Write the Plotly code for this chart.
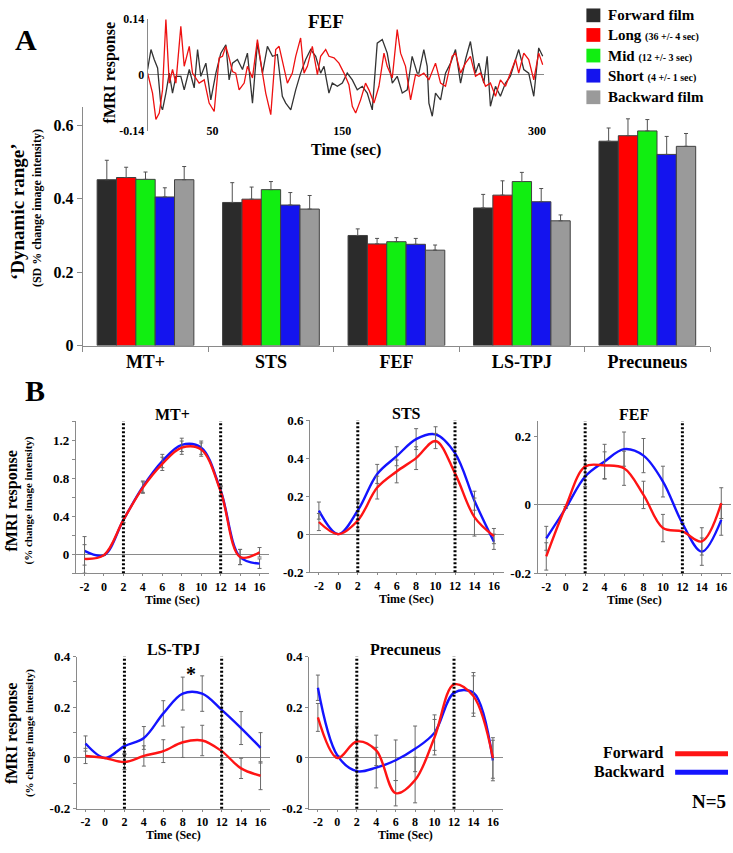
import plotly.graph_objects as go

W, H = 733, 853
SERIF = "Liberation Serif, Times New Roman, serif"


def fx(px):
    return px / W


def fy(py):
    return 1 - py / H


# ---------------- Panel A: 'dynamic range' bars ----------------
regions = ["MT+", "STS", "FEF", "LS-TPJ", "Precuneus"]
forward_film = [0.452, 0.390, 0.300, 0.375, 0.557]
long_seg = [0.458, 0.399, 0.277, 0.410, 0.572]
mid_seg = [0.453, 0.425, 0.283, 0.447, 0.585]
short_seg = [0.405, 0.383, 0.276, 0.392, 0.521]
backward_film = [0.452, 0.372, 0.260, 0.340, 0.543]

forward_film_err = [0.053, 0.054, 0.018, 0.037, 0.036]
long_err = [0.028, 0.033, 0.015, 0.039, 0.046]
mid_err = [0.020, 0.022, 0.011, 0.025, 0.031]
short_err = [0.025, 0.034, 0.016, 0.036, 0.049]
backward_err = [0.036, 0.037, 0.014, 0.016, 0.035]

bar_ticks = [0, 0.2, 0.4, 0.6]

# ---------------- Panel A inset: FEF time course ----------------
fef_fwd_t = [0, 2.6, 5.1, 7.7, 10.3, 11.5, 14.1, 16.7, 19.2, 21.8, 25.6, 28.2, 32.1, 35.9, 38.5,
             41.0, 44.9, 48.7, 52.6, 56.4, 60.3, 62.8, 65.4, 69.2, 73.1, 76.9, 80.8, 84.6, 88.5, 92.3,
             96.2, 100.0, 103.8, 106.4, 110.3, 114.1, 117.9, 121.8, 125.6, 129.5, 133.3, 135.9, 139.7,
             142.3, 146.2, 150.0, 153.8, 157.7, 161.5, 165.4, 169.2, 173.1, 176.9, 180.8, 184.6, 188.5,
             192.3, 196.2, 200.0, 203.8, 207.7, 209, 212.8, 215.4, 216.7, 219.3, 221.8, 225.7, 229.5,
             233.4, 237.2, 241.1, 244.9, 248.7, 252.6, 255.2, 259.0, 261.6, 264.1, 268.0, 271.8, 275.7,
             279.5, 282.1, 285.9, 289.8, 293.6, 297.5, 301.3, 304.4]
fef_fwd = [0.013, 0.063, 0.038, 0.017, -0.079, -0.088, -0.046, 0.004, -0.046, -0.004, -0.004, -0.038,
           0.013, -0.033, 0.063, -0.004, 0.029, -0.063, 0.004, 0.054, 0.075, -0.013, 0.029, 0.038, 0.013,
           0.054, -0.071, 0.079, 0.004, 0.071, 0.046, 0.05, -0.054, -0.071, -0.088, -0.038, 0.004, 0.038,
           0.063, 0.046, 0.004, 0.021, -0.046, -0.021, -0.029, -0.021, 0.004, -0.013, -0.038, -0.029,
           -0.046, -0.088, 0.079, 0.088, 0.054, -0.021, -0.004, -0.046, -0.038, 0.046, 0.004, 0.004,
           0.063, 0.021, -0.071, -0.104, -0.046, -0.063, 0.004, 0.029, 0.063, -0.021, 0.038, 0.083,
           0.004, 0.029, -0.021, 0.046, -0.079, -0.029, -0.054, -0.021, -0.004, 0.021, 0.063, 0.013,
           0.004, -0.054, 0.067, 0.046]

fef_long_t = [0, 3.8, 6.4, 9.0, 11.5, 14.1, 16.7, 19.2, 21.8, 25.6, 28.2, 32.1, 34.6, 39.7, 43.6, 47.4,
              51.3, 55.1, 57.7, 60.3, 62.8, 65.4, 67.9, 70.5, 74.4, 76.9, 80.8, 84.6, 88.5, 91.0, 94.9,
              98.7, 101.3, 103.8, 107.7, 111.5, 114.1, 117.9, 120.5, 123.1, 126.9, 130.8, 133.3, 137.2,
              139.7, 143.6, 147.4, 151.3, 155.1, 157.7, 160.3, 164.1, 167.9, 170.5, 174.4, 178.2, 182.1,
              184.6, 188.5, 192.3, 194.9, 198.7, 202.6, 206.4, 209, 212.8, 216.7, 221.8, 225.7, 229.5,
              234.6, 237.2, 241.1, 244.9, 248.7, 252.6, 256.4, 260.3, 264.1, 268.0, 271.8, 275.7, 279.5,
              283.4, 285.9, 289.8, 293.6, 297.5, 301.3, 304.4]
fef_long = [0.004, -0.046, -0.112, -0.096, -0.038, 0.138, -0.021, 0.013, -0.021, 0.121, 0.021, 0.071,
            0.004, -0.021, -0.013, -0.071, -0.092, 0.042, 0.046, 0.071, 0.042, 0.008, 0.004, -0.038,
            -0.021, 0.021, -0.008, 0.088, 0.004, -0.046, -0.1, 0.063, 0.071, 0.038, -0.021, 0.004, 0.046,
            0.092, 0.004, 0.021, 0.071, 0.0, 0.046, 0.063, 0.046, 0.042, 0.029, 0.004, -0.025, -0.079,
            -0.096, -0.063, -0.021, -0.038, -0.071, -0.029, 0.054, 0.021, -0.008, 0.113, 0.054, 0.021,
            -0.063, 0.0, -0.004, 0.004, -0.013, 0.029, -0.021, -0.029, 0.046, 0.054, 0.004, 0.029, 0.046,
            -0.004, 0.004, -0.029, -0.021, -0.054, -0.013, -0.029, 0.004, 0.038, 0.004, 0.054, 0.038,
            -0.013, 0.054, 0.025]

inset_xticks = [50, 150, 300]
inset_yticks = [-0.14, 0, 0.14]

# ---------------- Panel B: event-related time courses ----------------
t_sec = [-2, 0, 2, 4, 6, 8, 10, 12, 14, 16]
stim_bounds = [2, 12]

mt_fwd = [-0.05, -0.01, 0.36, 0.70, 0.95, 1.12, 1.10, 0.66, -0.03, 0.02]
mt_bwd = [0.035, -0.01, 0.36, 0.71, 0.98, 1.15, 1.12, 0.67, -0.03, -0.10]
mt_fwd_err = [0.15, 0.0, 0.03, 0.06, 0.07, 0.07, 0.07, 0.05, 0.08, 0.05]
mt_bwd_err = [0.15, 0.0, 0.03, 0.06, 0.07, 0.07, 0.07, 0.05, 0.08, 0.05]

sts_fwd = [0.064, 0.0, 0.072, 0.245, 0.33, 0.40, 0.49, 0.32, 0.09, -0.01]
sts_bwd = [0.124, 0.0, 0.125, 0.317, 0.41, 0.50, 0.525, 0.426, 0.176, -0.04]
sts_fwd_err = [0.045, 0.0, 0.05, 0.06, 0.06, 0.06, 0.04, 0.06, 0.10, 0.04]
sts_bwd_err = [0.045, 0.0, 0.05, 0.05, 0.05, 0.055, 0.04, 0.05, 0.05, 0.04]

fef_fwd_b = [-0.151, -0.005, 0.112, 0.115, 0.107, 0.029, -0.068, -0.078, -0.107, 0.005]
fef_bwd_b = [-0.098, -0.01, 0.083, 0.127, 0.163, 0.144, 0.068, -0.054, -0.137, -0.044]
fef_fwd_err = [0.04, 0.0, 0.03, 0.04, 0.05, 0.04, 0.04, 0.0, 0.04, 0.045]
fef_bwd_err = [0.035, 0.0, 0.03, 0.05, 0.05, 0.05, 0.045, 0.0, 0.04, 0.045]

ls_fwd = [0.008, 0.0, -0.016, 0.008, 0.027, 0.062, 0.069, 0.027, -0.041, -0.07]
ls_bwd = [0.057, 0.0, 0.047, 0.079, 0.176, 0.254, 0.254, 0.19, 0.118, 0.04]
ls_fwd_err = [0.03, 0.0, 0.03, 0.04, 0.045, 0.06, 0.06, 0.055, 0.04, 0.055]
ls_bwd_err = [0.03, 0.0, 0.03, 0.045, 0.05, 0.065, 0.07, 0.07, 0.065, 0.06]

pc_fwd = [0.16, 0.0, 0.065, 0.03, -0.139, -0.087, 0.082, 0.29, 0.244, 0.0]
pc_bwd = [0.277, 0.01, -0.052, -0.038, -0.009, 0.036, 0.10, 0.257, 0.257, -0.01]
pc_fwd_err = [0.055, 0.0, 0.06, 0.06, 0.05, 0.09, 0.07, 0.0, 0.08, 0.08]
pc_bwd_err = [0.05, 0.0, 0.06, 0.08, 0.08, 0.09, 0.07, 0.0, 0.08, 0.08]

RED = "#ff1414"
BLUE = "#1414ff"
AXIS_GREY = "#8a8a8a"

fig = go.Figure()
annotations = []
shapes = []


def note(text, px, py, size, angle=0, xanchor="center"):
    annotations.append(dict(text=text, x=fx(px), y=fy(py), xref="paper", yref="paper",
                            showarrow=False, textangle=angle, xanchor=xanchor, yanchor="middle",
                            font=dict(size=size, family=SERIF, weight="bold", color="black")))


# bars, with a key drawn in the top-right corner
conditions = [
    ("Forward film", forward_film, forward_film_err, "#2b2b2b"),
    ("Long <span style='font-size:10px'>(36 +/- 4 sec)</span>", long_seg, long_err, "#ff0000"),
    ("Mid <span style='font-size:10px'>(12 +/- 3 sec)</span>", mid_seg, mid_err, "#11ee11"),
    ("Short <span style='font-size:10px'>(4 +/- 1 sec)</span>", short_seg, short_err, "#1414ee"),
    ("Backward film", backward_film, backward_err, "#9a9a9a"),
]
key_rows = [8.5, 28.5, 49.5, 70, 92]
for (name, vals, errs, color), ky in zip(conditions, key_rows):
    fig.add_trace(go.Bar(
        x=regions, y=vals, name=name, xaxis="x", yaxis="y", showlegend=False,
        marker=dict(color=color, line=dict(color="#404040", width=1)),
        error_y=dict(type="data", array=errs, arrayminus=[0] * len(errs), symmetric=False,
                     color="#505050", thickness=1, width=2),
    ))
    shapes.append(dict(type="rect", xref="paper", yref="paper", x0=fx(588), x1=fx(602),
                       y0=fy(ky + 7), y1=fy(ky - 7), fillcolor=color, line=dict(width=0)))
    note(name, 608, ky, 15, xanchor="left")

# inset traces
fig.add_trace(go.Scatter(x=fef_fwd_t, y=fef_fwd, mode="lines", xaxis="x2", yaxis="y2",
                         line=dict(color="#333333", width=1.3), showlegend=False))
fig.add_trace(go.Scatter(x=fef_long_t, y=fef_long, mode="lines", xaxis="x2", yaxis="y2",
                         line=dict(color="#ee1111", width=1.3), showlegend=False))

# panel B subplots
panels = [
    # title, fwd, fwd_err, bwd, bwd_err, y range, y ticks, minor dtick, left px, top px
    ("MT+", mt_fwd, mt_fwd_err, mt_bwd, mt_bwd_err, [-0.2, 1.4], [0, 0.4, 0.8, 1.2], 0.2, 76, 422),
    ("STS", sts_fwd, sts_fwd_err, sts_bwd, sts_bwd_err, [-0.2, 0.6], [-0.2, 0, 0.2, 0.4, 0.6], None, 311, 421),
    ("FEF", fef_fwd_b, fef_fwd_err, fef_bwd_b, fef_bwd_err, [-0.2, 0.245], [-0.2, 0, 0.2], None, 539, 422),
    ("LS-TPJ", ls_fwd, ls_fwd_err, ls_bwd, ls_bwd_err, [-0.2, 0.4], [-0.2, 0, 0.2, 0.4], 0.1, 77, 662),
    ("Precuneus", pc_fwd, pc_fwd_err, pc_bwd, pc_bwd_err, [-0.2, 0.4], [-0.2, 0, 0.2, 0.4], None, 310, 662),
]
PANEL_W, PANEL_H = 194, 155

tick_font_b = dict(size=13, family=SERIF, weight="bold", color="black")
tick_font_bx = dict(size=12, family=SERIF, weight="bold", color="black")
layout_axes = {}

for i, (title, fwd, fwd_err, bwd, bwd_err, yr, yt, minor_dt, left, top) in enumerate(panels):
    n = i + 3
    xa, ya = f"x{n}", f"y{n}"
    for vals, errs, color in [(bwd, bwd_err, BLUE), (fwd, fwd_err, RED)]:
        fig.add_trace(go.Scatter(
            x=t_sec, y=vals, mode="lines", xaxis=xa, yaxis=ya, showlegend=False,
            line=dict(color=color, width=2.4, shape="spline", smoothing=1.0),
            error_y=dict(type="data", array=errs, color="#6a6a6a", thickness=1, width=2),
        ))
    yaxis = dict(domain=[fy(top + PANEL_H), fy(top)], range=yr, anchor=xa,
                 tickvals=yt, ticktext=[f"{v:g}" for v in yt], tickfont=tick_font_b,
                 showline=True, linecolor=AXIS_GREY, linewidth=1, ticks="outside", ticklen=3,
                 tickcolor=AXIS_GREY, showgrid=False, zeroline=True, zerolinecolor=AXIS_GREY,
                 zerolinewidth=1)
    if minor_dt:
        yaxis["minor"] = dict(ticks="outside", ticklen=3, dtick=minor_dt, tick0=0, tickcolor=AXIS_GREY)
    layout_axes[f"yaxis{n}"] = yaxis
    layout_axes[f"xaxis{n}"] = dict(
        domain=[fx(left), fx(left + PANEL_W)], range=[-2.9, 17.0], anchor=ya,
        tickvals=t_sec, ticktext=[f"{t:g}" for t in t_sec], tickfont=tick_font_bx,
        showline=True, linecolor=AXIS_GREY, linewidth=1, ticks="outside", ticklen=2,
        tickcolor=AXIS_GREY, showgrid=False, zeroline=False, ticklabeloverflow="allow")
    for xb in stim_bounds:
        shapes.append(dict(type="line", xref=xa, yref=f"{ya} domain", x0=xb, x1=xb, y0=0, y1=1,
                           line=dict(color="black", width=3, dash="2px,2px")))
    note(title, left + PANEL_W / 2, top - 7, 16)
    note("Time (Sec)", left + PANEL_W / 2, top + PANEL_H + 27, 12)

# significance marker on LS-TPJ
annotations.append(dict(text="*", x=8.8, y=0.33, xref="x6", yref="y6", showarrow=False,
                        font=dict(size=20, family=SERIF, weight="bold", color="black")))

# panel B y titles
for cy in (503, 740):
    note("fMRI response", 12, cy, 16, angle=-90)
    note("(% change image intensity)", 29, cy, 11, angle=-90)

# panel B key
for label, color, py in [("Forward", RED, 760), ("Backward", BLUE, 779)]:
    note(label, 668, py, 16, xanchor="right")
    shapes.append(dict(type="line", xref="paper", yref="paper", x0=fx(677), x1=fx(730),
                       y0=fy(py + 1), y1=fy(py + 1), line=dict(color=color, width=5)))
note("N=5", 730, 810, 19, xanchor="right")

# panel A labels
note("A", 26, 33, 30)
note("B", 35, 391, 30)
note("\u2018Dynamic range\u2019", 17, 208, 19, angle=-90)
note("(SD % change image intensity)", 37, 205, 12, angle=-90)
note("FEF", 327, 15, 19)
note("fMRI response", 110, 67, 16, angle=-90)
note("Time (sec)", 347, 146, 16)

fig.update_layout(
    width=W, height=H,
    margin=dict(l=0, r=0, t=0, b=0),
    paper_bgcolor="white", plot_bgcolor="rgba(0,0,0,0)",
    font=dict(family=SERIF, color="black", weight="bold"),
    barmode="group", bargap=0.229, bargroupgap=0,
    showlegend=False,
    xaxis=dict(domain=[fx(83), fx(712)], anchor="y", type="category", showline=True,
               linecolor=AXIS_GREY, linewidth=1, ticks="outside", tickson="boundaries", ticklen=5,
               tickcolor=AXIS_GREY, showgrid=False, zeroline=False,
               tickfont=dict(size=18, family=SERIF, weight="bold", color="black")),
    yaxis=dict(domain=[fy(345), fy(102)], anchor="x", range=[0, 0.65], tickvals=bar_ticks,
               ticktext=[f"{v:g}" for v in bar_ticks], showline=True, linecolor=AXIS_GREY,
               linewidth=1, ticks="outside", ticklen=5, tickcolor=AXIS_GREY, showgrid=False,
               zeroline=False, tickfont=dict(size=16, family=SERIF, weight="bold", color="black")),
    xaxis2=dict(domain=[fx(148), fx(545)], anchor="y2", range=[0, 305], tickvals=inset_xticks,
                showline=False, ticks="", showgrid=False, zeroline=False, ticklabelstandoff=-9,
                tickfont=dict(size=12, family=SERIF, weight="bold", color="black")),
    yaxis2=dict(domain=[fy(126), fy(12)], anchor="x2", range=[-0.14, 0.14], tickvals=inset_yticks,
                ticktext=[f"{v:g}" for v in inset_yticks], showline=True, linecolor=AXIS_GREY,
                linewidth=1, ticks="", showgrid=False, zeroline=True, zerolinecolor=AXIS_GREY,
                zerolinewidth=1, tickfont=dict(size=12, family=SERIF, weight="bold", color="black")),
    annotations=annotations,
    shapes=shapes,
    **layout_axes,
)

# the page's default body margin would push the 733x853 figure past the window
fig.write_html("out.html", config={"displayModeBar": False},
               post_script="document.body.style.margin = '0';")
